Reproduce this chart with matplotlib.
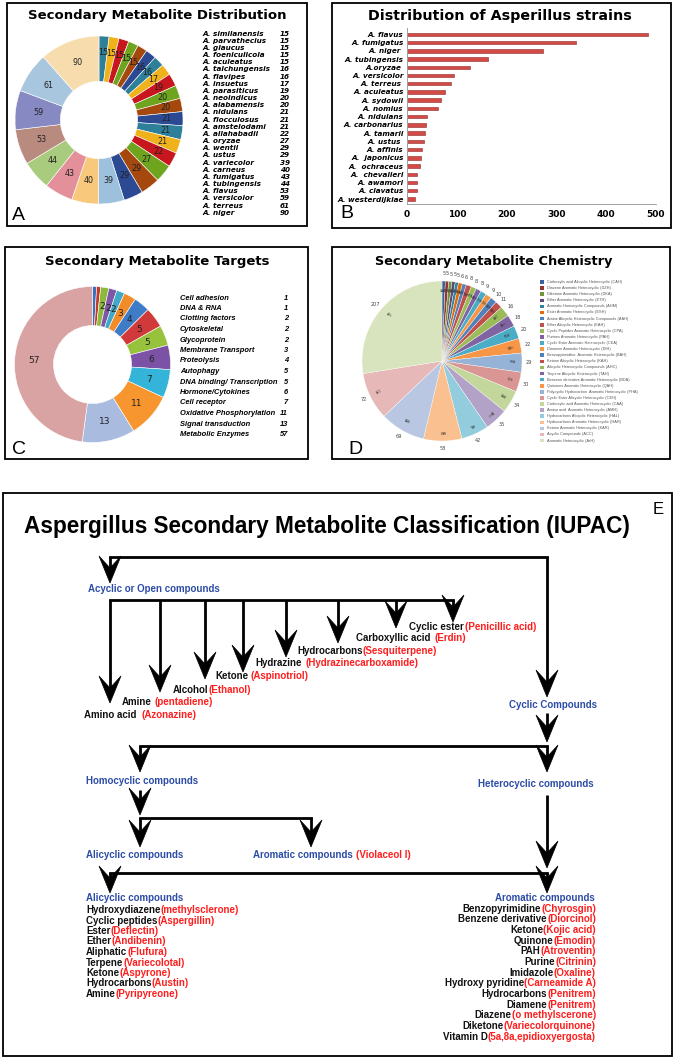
import matplotlib
matplotlib.use("Agg")
import matplotlib.pyplot as plt
from matplotlib.patches import Rectangle, Polygon
from matplotlib import font_manager
import numpy as np

W, H = 675, 1061

# ---------------- data ----------------
a_species = ["A. similanensis", "A. parvathecius", "A. glaucus", "A. foeniculicola", "A. aculeatus",
             "A. taichungensis", "A. flavipes", "A. insuetus", "A. parasiticus", "A. neoindicus",
             "A. alabamensis", "A. nidulans", "A. flocculosus", "A. amstelodami", "A. allahabadii",
             "A. oryzae", "A. wentii", "A. ustus", "A. variecolor", "A. carneus", "A. fumigatus",
             "A. tubingensis", "A. flavus", "A. versicolor", "A. terreus", "A. niger"]
a_counts = [15, 15, 15, 15, 15, 16, 16, 17, 19, 20, 20, 21, 21, 21, 22, 27, 29, 29, 39, 40, 43, 44, 53, 59, 61, 90]

b_species = ["A. flavus", "A. fumigatus", "A. niger ", "A. tubingensis", "A.oryzae ", "A. versicolor",
             "A. terreus ", "A. aculeatus", "A. sydowii", "A. nomius", "A. nidulans", "A. carbonarius",
             "A. tamarii", "A. ustus ", "A. affinis", "A.  japonicus", "A.  ochraceus", "A.  chevalieri",
             "A. awamori", "A. clavatus", "A. westerdijkiae"]
b_counts = [483, 340, 273, 163, 127, 94, 89, 77, 69, 63, 40, 38, 36, 35, 30, 29, 27, 21, 21, 20, 17]

c_targets = ["Cell adhesion", "DNA & RNA", "Clotting factors", "Cytoskeletal", "Glycoprotein",
             "Membrane Transport", "Proteolysis", "Autophagy", "DNA binding/ Transcription",
             "Hormone/Cytokines", "Cell receptor", "Oxidative Phosphorylation", "Signal transduction",
             "Metabolic Enzymes"]
c_counts = [1, 1, 2, 2, 2, 3, 4, 5, 5, 6, 7, 11, 13, 57]

d_classes = ["Carboxylic acid Alicyclic Heterocyclic (CAH)", "Diazene Aromatic Heterocyclic (DZH)",
             "Diketone Aromatic Heterocyclic (DKA)", "Ether Aromatic Heterocyclic (ETH)",
             "Aromatic Homocyclic Compounds (AHM)", "Ester Aromatic Heterocyclic (ESH)",
             "Amine Alicyclic Heterocyclic Compounds (AAH)", "Ether Alicyclic Heterocyclic (EAH)",
             "Cyclic Peptides Aromatic Heterocyclic (CPA)", "Purines Aromatic Heterocyclic (PAH)",
             "Cyclic Ester Aromatic Heterocyclic (CEA)", "Diamene Aromatic Heterocyclic (DIH)",
             "Benzopyrimidine  Aromatic Heterocyclic (BAH)", "Ketone Alicyclic Heterocyclic (KAH)",
             "Alicyclic Heterocyclic Compounds (AHC)", "Terpene Alicyclic Heterocyclic (TAH)",
             "Benzene derivative Aromatic Heterocyclic (BDA)", "Quinones Aromatic Heterocyclic (QAH)",
             "Polycyclic Hydrocarbon  Aromatic Heterocyclic (PHA)", "Cyclic Ester Alicyclic Heterocyclic (CEH)",
             "Carboxylic acid Aromatic Heterocyclic (CAA)", "Amino acid  Aromatic Heterocyclic (AMH)",
             "Hydrocarbons Alicyclic Heterocyclic (HAL)", "Hydrocarbons Aromatic Heterocyclic (HAR)",
             "Ketone Aromatic Heterocyclic (KAR)", "Acyclic Compounds (ACC)", "Aromatic Heterocyclic (ArH)"]
d_counts = [5, 5, 5, 5, 5, 6, 6, 8, 8, 8, 9, 9, 10, 11, 16, 18, 20, 22, 29, 30, 34, 35, 42, 58, 69, 72, 207]

acyclic_items = [("Amino acid", "(Azonazine)", 4), ("Amine", "(pentadiene)", 2), ("Alcohol", "(Ethanol)", 0),
                 ("Ketone", "(Aspinotriol)", 2), ("Hydrazine", "(Hydrazinecarboxamide)", 3),
                 ("Hydrocarbons", "(Sesquiterpene)", 0), ("Carboxyllic acid", "(Erdin)", 3),
                 ("Cyclic ester", "(Penicillic acid)", 1)]
alicyclic_items = [("Hydroxydiazene", "(methylsclerone)"), ("Cyclic peptides", "(Aspergillin)"),
                   ("Ester", "(Deflectin)"), ("Ether", "(Andibenin)"), ("Aliphatic", "(Flufura)"),
                   ("Terpene", "(Variecolotal)"), ("Ketone", "(Aspyrone)"), ("Hydrocarbons", "(Austin)"),
                   ("Amine", "(Pyripyreone)")]
aromatic_items = [("Benzopyrimidine", "(Chyrosgin)"), ("Benzene derivative", "(Diorcinol)"),
                  ("Ketone", "(Kojic acid)"), ("Quinone", "(Emodin)"), ("PAH", "(Atroventin)"),
                  ("Purine", "(Citrinin)"), ("Imidazole", "(Oxaline)"), ("Hydroxy pyridine", "(Carneamide A)"),
                  ("Hydrocarbons", "(Penitrem)"), ("Diamene", "(Penitrem)"), ("Diazene", "(o methylscerone)"),
                  ("Diketone", "(Variecolorquinone)"), ("Vitamin D", "(5a,8a,epidioxyergosta)")]

# ---------------- colours ----------------
dark6 = ["#2E7F9A", "#F0B21A", "#C8161E", "#6FA51E", "#A5480E", "#2C4A93"]
a_colors = dark6 * 3 + ["#9DC1DC", "#F8C97C", "#E4909A", "#A9CB7D", "#B98B7E", "#8689C2", "#A8C7DF", "#F7DCAD"]
c_colors = ["#3A6FBF", "#C0392B", "#8DB93D", "#7E57A6", "#3FA9C7", "#F28C28", "#3E7CC8", "#D03A3A",
            "#96C23C", "#7B52A6", "#33B4D8", "#F7962E", "#A9BCE0", "#D9A3A3"]
d_mid = ["#4F81BD", "#C0504D", "#9BBB59", "#8064A2", "#4BACC6", "#F79646"]
d_colors = (["#3A63A0", "#953735", "#76923C", "#5F497A", "#31859C", "#E46C0A"] + d_mid + d_mid +
            ["#95B3D7", "#D99694", "#C3D69B", "#B3A2C7", "#93CDDD", "#FAC090", "#B9C7E2", "#E6B9B8", "#D7E4BD"])

RED = "#FF1E1E"
BLUE = "#2D4CA6"
names = {f.name for f in font_manager.fontManager.ttflist}
NARROW = "Liberation Sans Narrow" if "Liberation Sans Narrow" in names else "Liberation Sans"

fig = plt.figure(figsize=(W / 100, H / 100), dpi=100)
bg = fig.add_axes([0, 0, 1, 1])
bg.set_xlim(0, W)
bg.set_ylim(H, 0)
bg.axis("off")


def px_axes(x, y, w, h):
    return fig.add_axes([x / W, 1 - (y + h) / H, w / W, h / H])


def box(x0, y0, x1, y1):
    bg.add_patch(Rectangle((x0, y0), x1 - x0, y1 - y0, fill=False, ec="black", lw=1.3))


def donut(ax, vals, colors, width, fs, min_label=0, small=0, small_r=None):
    wedges, _ = ax.pie(vals, colors=colors, startangle=90, counterclock=False,
                       wedgeprops=dict(width=width, edgecolor="white", linewidth=0.4))
    for w, v in zip(wedges, vals):
        if v < min_label:
            continue
        r = small_r if (small_r and v < small) else 1 - width / 2
        ang = np.deg2rad((w.theta1 + w.theta2) / 2)
        ax.text(r * np.cos(ang), r * np.sin(ang), str(v), ha="center", va="center", fontsize=fs, color="#222")
    ax.set_xlim(-1, 1)
    ax.set_ylim(-1, 1)
    ax.set_aspect("equal")
    ax.axis("off")


# ---------------- panel A ----------------
box(7, 3, 307, 226)
bg.text(157, 16, "Secondary Metabolite Distribution", ha="center", va="center", fontsize=9.5, weight="bold")
axa = px_axes(15, 36, 168, 168)
donut(axa, a_counts, a_colors, 0.54, 5.8, small=25, small_r=0.8)
for i, (s, v) in enumerate(zip(a_species, a_counts)):
    y = 33.5 + i * 7.17
    bg.text(202, y, s, ha="left", va="center", fontsize=5.2, weight="bold", style="italic")
    bg.text(290, y, str(v), ha="right", va="center", fontsize=5.2, weight="bold", style="italic")
bg.text(12, 215, "A", ha="left", va="center", fontsize=14, family="Liberation Sans")

# ---------------- panel B ----------------
box(332, 3, 671, 228)
bg.text(500, 16, "Distribution of Asperillus strains", ha="center", va="center", fontsize=10.3, weight="bold")
axb = px_axes(407, 28, 249, 176)
yy = np.arange(len(b_counts))
axb.barh(yy, b_counts, height=0.42, color="#D24B47", edgecolor="#8E2A27", linewidth=0.4)
axb.set_xlim(0, 500)
axb.set_ylim(len(b_counts) - 0.39, -0.77)
axb.set_yticks(yy)
axb.set_yticklabels(b_species, fontsize=5.2, weight="bold", style="italic")
axb.set_xticks([0, 100, 200, 300, 400, 500])
axb.set_xticklabels(["0", "100", "200", "300", "400", "500"], fontsize=6.5, weight="bold")
axb.tick_params(axis="both", length=0, pad=2.5)
axb.tick_params(axis="x", pad=4)
for sp in ["top", "right"]:
    axb.spines[sp].set_visible(False)
for sp in ["left", "bottom"]:
    axb.spines[sp].set_color("#A0A0A0")
    axb.spines[sp].set_linewidth(0.7)
axb.patch.set_alpha(0)
bg.text(340, 213, "B", ha="left", va="center", fontsize=14, family="Liberation Sans")

# ---------------- panel C ----------------
box(5, 247, 308, 459)
bg.text(157, 262, "Secondary Metabolite Targets", ha="center", va="center", fontsize=9.5, weight="bold")
axc = px_axes(14.5, 286.5, 156, 156)
donut(axc, c_counts, c_colors, 0.5, 6.5, min_label=2)
for i, (s, v) in enumerate(zip(c_targets, c_counts)):
    y = 298 + i * 10.5
    bg.text(180, y, s, ha="left", va="center", fontsize=5.4, weight="bold", style="italic", family=NARROW)
    bg.text(288, y, str(v), ha="right", va="center", fontsize=5.4, weight="bold", style="italic", family=NARROW)
bg.text(12, 450, "C", ha="left", va="center", fontsize=14, family="Liberation Sans")

# ---------------- panel D ----------------
box(332, 247, 670, 459)
bg.text(494, 261, "Secondary Metabolite Chemistry", ha="center", va="center", fontsize=9.3, weight="bold")
axd = px_axes(362, 281, 160, 160)
wedges, _ = axd.pie(d_counts, colors=d_colors, startangle=90, counterclock=False,
                    wedgeprops=dict(edgecolor="white", linewidth=0.25))
for w, v, lab in zip(wedges, d_counts, d_classes):
    mid = (w.theta1 + w.theta2) / 2
    ang = np.deg2rad(mid)
    axd.text(1.09 * np.cos(ang), 1.09 * np.sin(ang), str(v), ha="center", va="center", fontsize=3.6, color="#444")
    rot = mid if np.cos(ang) >= 0 else mid + 180
    axd.text(0.88 * np.cos(ang), 0.88 * np.sin(ang), lab.split("(")[-1].rstrip(")"), ha="center", va="center",
             fontsize=2.2, color="#333", rotation=rot - 90 if abs(np.sin(ang)) > 0.7 else rot)
axd.set_xlim(-1, 1)
axd.set_ylim(-1, 1)
axd.set_aspect("equal")
axd.axis("off")
for i, (lab, col) in enumerate(zip(d_classes, d_colors)):
    y = 282 + i * 6.1
    bg.add_patch(Rectangle((540, y - 1.8), 3.8, 3.6, fc=col, ec="none"))
    bg.text(547, y, lab, ha="left", va="center", fontsize=2.8, color="#555", family="Liberation Sans")
bg.text(348, 450, "D", ha="left", va="center", fontsize=14, family="Liberation Sans")

# ---------------- panel E ----------------
box(3, 493, 672, 1056)
bg.text(653, 510, "E", ha="left", va="center", fontsize=12, family="Liberation Sans")
bg.text(24, 526, "Aspergillus Secondary Metabolite Classification (IUPAC)", ha="left", va="center",
        fontsize=16.3, weight="bold", family=NARROW)


def line(xs, ys):
    bg.plot(xs, ys, color="black", lw=2, solid_capstyle="projecting", zorder=2)


def head(x, tip):
    bg.add_patch(Polygon([(x, tip), (x - 11, tip - 27), (x, tip - 15), (x + 11, tip - 27)],
                         closed=True, fc="black", ec="black", lw=0.5, zorder=3))


def down(x, y0, tip):
    bg.plot([x, x], [y0, tip - 15], color="black", lw=2, solid_capstyle="butt", zorder=2)
    head(x, tip)


LFS = 7.0


def pair(x, y, black, red, gap=0, color="#111", right=False):
    kw = dict(fontsize=LFS, weight="bold", family=NARROW, va="center")
    if right:
        t = bg.text(x, y, red, color=RED, ha="right", **kw)
        bg.annotate(black, xy=(0, 0.5), xycoords=t, xytext=(-gap, 0), textcoords="offset points",
                    ha="right", color=color, **kw)
    else:
        t = bg.text(x, y, black, color=color, ha="left", **kw)
        if red:
            bg.annotate(red, xy=(1, 0.5), xycoords=t, xytext=(gap, 0), textcoords="offset points",
                        ha="left", color=RED, **kw)


# top loop
line([110, 547], [557, 557])
down(110, 557, 583)
down(547, 557, 697)
pair(88, 589, "Acyclic or Open compounds", "", color=BLUE)

# acyclic branches
drop_x = [110, 160, 205, 243, 286, 338, 396, 453]
drop_tip = [703, 692, 679, 672, 657, 643, 628, 622]
label_xy = [(84, 715), (122, 702), (173, 690), (215, 676), (255, 663), (297, 651), (356, 638), (409, 627)]
line([110, 453], [600, 600])
for x, tip in zip(drop_x, drop_tip):
    down(x, 600, tip)
for (bl, rd, gap), (x, y) in zip(acyclic_items, label_xy):
    pair(x, y, bl, rd, gap)

# cyclic
pair(509, 705, "Cyclic Compounds", "", color=BLUE)
down(547, 713, 742)
line([140, 547], [746, 746])
down(140, 746, 772)
down(547, 746, 772)
pair(86, 781, "Homocyclic compounds", "", color=BLUE)
pair(478, 784, "Heterocyclic compounds", "", color=BLUE)

down(140, 790, 815)
line([140, 311], [818, 818])
down(140, 818, 847)
down(311, 818, 847)
pair(86, 855, "Alicyclic compounds", "", color=BLUE)
pair(253, 855, "Aromatic compounds", "(Violaceol I)", 2, color=BLUE)

down(547, 795, 868)
line([110, 547], [873, 873])
down(110, 873, 893)
down(547, 873, 893)

pair(86, 898, "Alicyclic compounds", "", color=BLUE)
for i, (bl, rd) in enumerate(alicyclic_items):
    pair(86, 910 + i * 10.5, bl, rd)
bg.text(595, 898, "Aromatic compounds", ha="right", va="center", fontsize=LFS, weight="bold",
        family=NARROW, color=BLUE)
for i, (bl, rd) in enumerate(aromatic_items):
    pair(596, 908.5 + i * 10.7, bl, rd, right=True)

fig.savefig("out.png", dpi=100)
